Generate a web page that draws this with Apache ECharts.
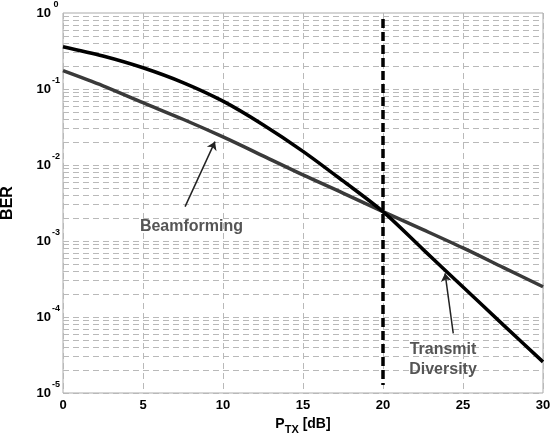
<!DOCTYPE html>
<html>
<head>
<meta charset="utf-8">
<script src="https://cdn.jsdelivr.net/npm/echarts@6/dist/echarts.min.js"></script>
<style>
html,body{margin:0;padding:0;background:#fff;}
#chart{width:553px;height:435px;}
</style>
</head>
<body>
<div id="chart"></div>
<script>
// ---- data ----
const xValues = [0, 2.5, 5, 7.5, 10, 12.5, 15, 17.5, 20, 22.5, 25, 27.5, 30];
const transmitDiversity = [0.3606, 0.2723, 0.1905, 0.1216, 0.0692, 0.0339, 0.01514, 0.00617, 0.00243, 7.76e-4, 2.48e-4, 7.94e-5, 2.57e-5];
const beamforming = [0.174, 0.110, 0.066, 0.040, 0.0234, 0.0132, 0.0074, 0.00427, 0.00243, 0.00141, 8.1e-4, 4.5e-4, 2.5e-4];
const xTickLabels = [0, 5, 10, 15, 20, 25, 30];
const yDecadeExponents = [-5, -4, -3, -2, -1, 0];
const thresholdX = 20;
const thresholdY = [0.834, 1.27e-5];
const beamArrow = [[7.63, 2.83e-3], [9.5, 0.0203]];
const tdArrow = [[24.39, 6.1e-5], [23.88, 3.76e-4]];
const beamLabel = [8.03, 1.57e-3];
const tdLabel = [23.75, 2.72e-5];

// minor/major horizontal grid values (1..9 x 10^k)
const gridValues = [];
for (let k = -5; k < 0; k++) {
  for (let m = 1; m <= 9; m++) gridValues.push(m * Math.pow(10, k));
}

const gridStyle = { type: [6, 4], color: '#b9b9b9', width: 1 };
const FONT = 'Liberation Sans, Arial, sans-serif';

const chart = echarts.init(document.getElementById('chart'), null, { renderer: 'canvas' });
const option = {
  animation: false,
  backgroundColor: '#fff',
  grid: {
    left: 63, right: 10, top: 13, bottom: 42,
    outerBoundsMode: 'none', containLabel: false,
    show: true, borderColor: '#aaaaaa', borderWidth: 1, backgroundColor: 'transparent'
  },
  xAxis: {
    type: 'value', min: 0, max: 30, interval: 5,
    axisLine: { show: false }, axisTick: { show: false },
    splitLine: { show: true, lineStyle: gridStyle },
    axisLabel: {
      margin: 6, color: '#000', fontFamily: FONT, fontWeight: 'bold', fontSize: 13,
      formatter: v => (xTickLabels.indexOf(v) >= 0 ? String(v) : '')
    },
    name: '{p|P}{sub|TX}{p| [dB]}',
    nameLocation: 'middle', nameGap: 18,
    nameTextStyle: {
      rich: {
        p: { fontFamily: FONT, fontWeight: 'bold', fontSize: 14, color: '#000' },
        sub: { fontFamily: FONT, fontWeight: 'bold', fontSize: 11, color: '#000', padding: [12, 0, 0, 0] }
      }
    }
  },
  yAxis: {
    type: 'log', logBase: 10, min: 1e-5, max: 1,
    axisLine: { show: false }, axisTick: { show: false },
    splitLine: { show: false },
    axisLabel: {
      margin: 2,
      formatter: v => {
        const e = Math.round(Math.log10(v));
        return yDecadeExponents.indexOf(e) >= 0 ? '{b|10}{s|' + e + '}' : '';
      },
      rich: {
        b: { fontFamily: FONT, fontWeight: 'bold', fontSize: 13, color: '#000' },
        s: { fontFamily: FONT, fontWeight: 'bold', fontSize: 9, color: '#000', width: 10, align: 'left', padding: [0, 0, 16, 0] }
      }
    },
    name: 'BER', nameLocation: 'middle', nameGap: 47,
    nameTextStyle: { fontFamily: FONT, fontWeight: 'bold', fontSize: 16, color: '#000' }
  },
  series: [
    {
      name: 'grid', type: 'line', data: [], z: 1, silent: true,
      markLine: {
        z: 1, zlevel: 0,
        silent: true, symbol: 'none', label: { show: false }, animation: false, precision: 12,
        lineStyle: gridStyle,
        data: gridValues.map(v => ({ yAxis: v }))
      }
    },
    {
      name: 'Beamforming', type: 'line', z: 3, smooth: 0.3, showSymbol: false, symbol: 'none',
      lineStyle: { color: '#3a3a3a', width: 3.5 },
      data: xValues.map((x, i) => [x, beamforming[i]])
    },
    {
      name: 'Transmit Diversity', type: 'line', z: 4, smooth: 0.3, showSymbol: false, symbol: 'none',
      lineStyle: { color: '#000', width: 3.5 },
      data: xValues.map((x, i) => [x, transmitDiversity[i]])
    },
    {
      name: 'annotations', type: 'line', data: [], z: 5, silent: true,
      markLine: {
        z: 5,
        silent: true, animation: false, label: { show: false }, precision: 12,
        data: [
          [
            { coord: [thresholdX, thresholdY[0]], symbol: 'none', lineStyle: { color: '#000', width: 3.5, type: [9, 4] } },
            { coord: [thresholdX, thresholdY[1]], symbol: 'none' }
          ],
          [
            { coord: beamArrow[0], symbol: 'none', lineStyle: { color: '#222', width: 1.5, type: 'solid' } },
            { coord: beamArrow[1], symbol: 'arrow', symbolSize: 8 }
          ],
          [
            { coord: tdArrow[0], symbol: 'none', lineStyle: { color: '#222', width: 1.5, type: 'solid' } },
            { coord: tdArrow[1], symbol: 'arrow', symbolSize: 8 }
          ]
        ]
      },
      markPoint: {
        z: 6,
        silent: true, symbol: 'circle', symbolSize: 0, animation: false,
        label: {
          show: true, position: 'inside', color: '#555', fontFamily: FONT, fontWeight: 'bold', fontSize: 16, lineHeight: 20
        },
        data: [
          { coord: beamLabel, label: { formatter: 'Beamforming' } },
          { coord: tdLabel, label: { formatter: 'Transmit\nDiversity' } }
        ]
      }
    }
  ]
};
chart.setOption(option);
</script>
</body>
</html>
